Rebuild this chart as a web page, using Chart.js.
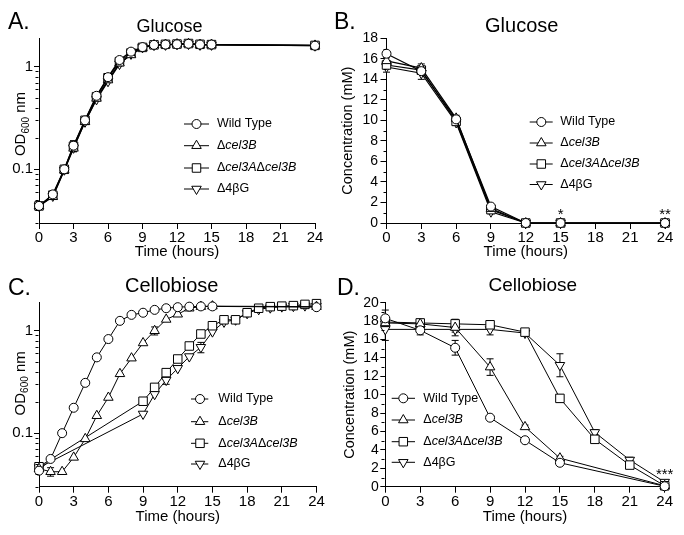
<!DOCTYPE html>
<html lang="en">
<head>
<meta charset="UTF-8" />
<title>Glucose and cellobiose growth</title>
<script src="https://cdn.jsdelivr.net/npm/chart.js"></script>
<style>
  body { margin: 0; background: #fff; }
  .wrap { position: relative; width: 684px; height: 535px; overflow: hidden; }
  canvas { position: absolute; }
</style>
</head>
<body>
<div class="wrap">
  <canvas id="chartA" width="342" height="268" style="left:0;top:0"></canvas>
  <canvas id="chartB" width="354" height="268" style="left:330px;top:0"></canvas>
  <canvas id="chartC" width="342" height="267" style="left:0;top:268px"></canvas>
  <canvas id="chartD" width="354" height="267" style="left:330px;top:268px"></canvas>
</div>

<script>
// ---- data ----
const strainNames = ['Wild Type', 'Δ_cel3B_', 'Δ_cel3A_Δ_cel3B_', 'Δ4βG']; // _..._ = italic

// A. Glucose, OD600
const timeA = [0, 1.2, 2.2, 3, 4, 5, 6, 7, 8, 9, 10, 11, 12, 13, 14, 15, 24];
const wtA = [0.044, 0.057, 0.100, 0.170, 0.30, 0.52, 0.79, 1.16, 1.40, 1.55, 1.63, 1.64, 1.65, 1.67, 1.64, 1.64, 1.60];
const b3A = [0.044, 0.054, 0.098, 0.160, 0.29, 0.49, 0.74, 1.08, 1.30, 1.53, 1.63, 1.64, 1.66, 1.67, 1.64, 1.64, 1.61];
const dkA = [0.044, 0.056, 0.100, 0.168, 0.30, 0.51, 0.78, 1.12, 1.36, 1.54, 1.63, 1.65, 1.66, 1.68, 1.65, 1.64, 1.61];
const g4A = [0.044, 0.055, 0.099, 0.162, 0.29, 0.48, 0.72, 1.06, 1.33, 1.54, 1.62, 1.63, 1.65, 1.66, 1.63, 1.63, 1.60];
const errA = [0, 0.003, 0.005, 0.02, 0.02, 0.04, 0.05, 0.05, 0.04, 0.03, 0, 0, 0, 0, 0, 0, 0];

// B. Glucose, concentration (mM)
const timeB = [0, 3, 6, 9, 12, 15, 24];
const wtB = [16.5, 14.8, 10.1, 1.6, 0, 0, 0];
const b3B = [15.8, 15.1, 10.2, 1.4, 0, 0, 0];
const dkB = [15.4, 14.9, 9.9, 1.3, 0, 0, 0];
const g4B = [15.2, 14.6, 9.8, 1.1, 0, 0, 0];
const wtBErr = [0.2, 0.3, 0.2, 0.2, 0, 0, 0];
const b3BErr = [0.3, 0.4, 0.3, 0.2, 0, 0, 0];
const dkBErr = [0.3, 0.4, 0.3, 0.2, 0, 0, 0];
const g4BErr = [0.5, 0.6, 0.3, 0.2, 0, 0, 0];
const starsB = ['*', '**'];
const starTimesB = [15, 24];

// C. Cellobiose, OD600
const timeC1 = [0, 1, 2, 3, 4, 5, 6, 7, 8, 9, 10, 11, 12, 13, 14, 15, 24];
const timeC2 = [0, 9, 10, 11, 12, 13, 14, 15, 16, 17, 18, 19, 20, 21, 22, 23, 24];
const wtC = [0.043, 0.056, 0.100, 0.177, 0.31, 0.55, 0.83, 1.25, 1.43, 1.50, 1.60, 1.66, 1.70, 1.72, 1.73, 1.73, 1.70];
const b3C = [0.045, 0.042, 0.042, 0.058, 0.088, 0.148, 0.223, 0.38, 0.54, 0.76, 1.00, 1.29, 1.45, 1.66, 1.72, 1.74, 1.72];
const dkC = [0.047, 0.205, 0.28, 0.39, 0.53, 0.71, 0.93, 1.12, 1.28, 1.28, 1.50, 1.66, 1.72, 1.74, 1.76, 1.81, 1.84];
const g4C = [0.046, 0.154, 0.24, 0.33, 0.43, 0.56, 0.69, 0.98, 1.22, 1.28, 1.48, 1.62, 1.68, 1.72, 1.74, 1.76, 1.74];
const b3CErr = [0, 0.004, 0, 0, 0, 0, 0, 0, 0, 0, 0.09, 0, 0, 0, 0, 0, 0];
const g4CErr = [0, 0, 0, 0.03, 0, 0, 0.08, 0, 0, 0.07, 0.06, 0, 0, 0, 0, 0, 0];

// D. Cellobiose, concentration (mM)
const timeD1 = [0, 3, 6, 9, 12, 15, 24];
const timeD2 = [0, 3, 6, 9, 12, 15, 18, 21, 24];
const wtD = [18.3, 17.0, 15.1, 7.5, 5.05, 2.6, 0.05];
const b3D = [17.8, 17.7, 17.3, 13.0, 6.5, 3.1, 0.1];
const dkD = [17.9, 17.8, 17.7, 17.6, 16.8, 9.6, 5.15, 2.35, 0.1];
const g4D = [17.1, 17.1, 17.1, 17.1, 16.7, 13.2, 5.9, 2.9, 0.5];
const wtDErr = [0.9, 0.5, 0.8, 0.2, 0.1, 0.2, 0];
const b3DErr = [0.3, 0.5, 0.9, 0.9, 0.2, 0.2, 0];
const dkDErr = [0.4, 0.2, 0.2, 0.2, 0.2, 0.4, 0.2, 0.2, 0];
const g4DErr = [1.2, 0.3, 0.3, 0.6, 0.2, 1.25, 0.3, 0.3, 0.1];
const starsD = ['***'];
const starTimesD = [24];

// ---- styling ----
const FAMILY = "'Liberation Sans', Arial, Helvetica, sans-serif";
Chart.defaults.font.family = FAMILY;
Chart.defaults.color = '#000';

const markers = [
  { pointStyle: 'circle', rotation: 0, radius: 4.5 },
  { pointStyle: 'triangle', rotation: 0, radius: 5.5 },
  { pointStyle: 'rect', rotation: 0, radius: 6 },
  { pointStyle: 'triangle', rotation: 180, radius: 5.5 }
];

function series(i, xs, ys, errs, lw) {
  const m = markers[i];
  return {
    label: strainNames[i].replace(/_/g, ''),
    data: xs.map((x, j) => ({ x: x, y: ys[j] })),
    errors: errs || null,
    borderColor: '#000',
    borderWidth: lw,
    backgroundColor: '#fff',
    pointStyle: m.pointStyle,
    pointRotation: m.rotation,
    pointRadius: m.radius,
    pointBorderWidth: 1,
    pointBackgroundColor: '#fff',
    pointBorderColor: '#000',
    tension: 0,
    clip: false
  };
}

// per-panel decorations (letters, titles, legend, stars), canvas-local coordinates
const logMinor = [];
for (let v = 3; v <= 9; v++) logMinor.push(v / 100);
for (let v = 2; v <= 9; v++) logMinor.push(v / 10);
const oddB = [], oddD = [];
for (let v = 1; v < 18; v += 2) oddB.push(v);
for (let v = 1; v < 20; v += 2) oddD.push(v);

const decor = {
  chartA: { letter: 'A.', lx: 8, ly: 28.5, title: 'Glucose', tSize: 18, tx: 169.5, ty: 26,
            od: { x: 19.7, y: 124 },
            leg: { x1: 184, xm: 196.5, x2: 209, tx: 217, rows: [124, 145.7, 168, 189] },
            minor: logMinor },
  chartB: { letter: 'B.', lx: 4, ly: 28.5, title: 'Glucose', tSize: 20, tx: 191.7, ty: 25,
            leg: { x1: 199.7, xm: 211.3, x2: 222.7, tx: 230.3, rows: [122, 143, 164, 184.5] },
            minor: oddB, stars: starsB, starTimes: starTimesB, starLift: 4 },
  chartC: { letter: 'C.', lx: 8, ly: 27, title: 'Cellobiose', tSize: 20, tx: 171.7, ty: 17,
            od: { x: 19.5, y: 115.3 },
            leg: { x1: 191, xm: 200, x2: 208.3, tx: 218.3, rows: [131, 153.7, 175.3, 196] },
            minor: logMinor },
  chartD: { letter: 'D.', lx: 7, ly: 27, title: 'Cellobiose', tSize: 19, tx: 202.8, ty: 16.5,
            leg: { x1: 61.7, xm: 73.3, x2: 85, tx: 93.3, rows: [130.3, 152, 173.7, 194.3] },
            minor: oddD, stars: starsD, starTimes: starTimesD, starLift: 7.7 }
};

function drawRich(ctx, text, x, y, size) {
  const parts = text.split('_');
  parts.forEach((p, k) => {
    if (!p) return;
    ctx.font = (k % 2 ? 'italic ' : '') + size + 'px ' + FAMILY;
    ctx.fillText(p, x, y);
    x += ctx.measureText(p).width;
  });
}

function drawOd(ctx, cx, cy) {
  ctx.save();
  ctx.translate(cx, cy);
  ctx.rotate(-Math.PI / 2);
  const big = '15px ' + FAMILY, small = '10px ' + FAMILY;
  ctx.font = big;
  const w1 = ctx.measureText('OD').width, w3 = ctx.measureText(' nm').width;
  ctx.font = small;
  const w2 = ctx.measureText('600').width;
  let x = -(w1 + w2 + w3) / 2;
  const base = 5.4;
  ctx.textBaseline = 'alphabetic';
  ctx.textAlign = 'left';
  ctx.font = big; ctx.fillText('OD', x, base); x += w1;
  ctx.font = small; ctx.fillText('600', x, base + 3.5); x += w2;
  ctx.font = big; ctx.fillText(' nm', x, base);
  ctx.restore();
}

const panelDeco = {
  id: 'panelDeco',
  beforeDatasetsDraw(chart) {
    // error bars, under the markers
    const ctx = chart.ctx, ys = chart.scales.y;
    ctx.save();
    ctx.strokeStyle = '#000';
    ctx.lineWidth = 1;
    chart.data.datasets.forEach((ds, i) => {
      if (!ds.errors) return;
      const meta = chart.getDatasetMeta(i);
      ds.errors.forEach((e, j) => {
        if (!e) return;
        const v = ds.data[j].y, x = meta.data[j].x;
        const lo = Math.max(v - e, ys.min);
        const y1 = ys.getPixelForValue(v + e), y2 = ys.getPixelForValue(lo);
        ctx.beginPath();
        ctx.moveTo(x, y1); ctx.lineTo(x, y2);
        ctx.moveTo(x - 3.5, y1); ctx.lineTo(x + 3.5, y1);
        ctx.moveTo(x - 3.5, y2); ctx.lineTo(x + 3.5, y2);
        ctx.stroke();
      });
    });
    ctx.restore();
  },
  afterDraw(chart) {
    const d = decor[chart.canvas.id];
    const ctx = chart.ctx, ys = chart.scales.y, xs = chart.scales.x;
    ctx.save();
    ctx.fillStyle = '#000';
    ctx.strokeStyle = '#000';
    ctx.textAlign = 'left';
    ctx.textBaseline = 'alphabetic';

    ctx.font = '23px ' + FAMILY;
    ctx.fillText(d.letter, d.lx, d.ly);

    ctx.font = d.tSize + 'px ' + FAMILY;
    ctx.textAlign = 'center';
    ctx.fillText(d.title, d.tx, d.ty + 0.36 * d.tSize);
    ctx.textAlign = 'left';

    if (d.od) drawOd(ctx, d.od.x, d.od.y);

    // minor ticks on y axis
    ctx.lineWidth = 1;
    const ax = Math.round(chart.chartArea.left) - 0.5;
    ctx.beginPath();
    d.minor.forEach(v => {
      const y = Math.round(ys.getPixelForValue(v)) + 0.5;
      ctx.moveTo(ax, y); ctx.lineTo(ax - 3, y);
    });
    ctx.stroke();

    // legend
    const L = d.leg;
    d.leg.rows.forEach((y, i) => {
      const m = markers[i];
      ctx.beginPath();
      ctx.moveTo(L.x1, y); ctx.lineTo(L.x2, y);
      ctx.stroke();
      ctx.fillStyle = '#fff';
      Chart.helpers.drawPoint(ctx, { pointStyle: m.pointStyle, rotation: m.rotation, radius: m.radius, borderWidth: 1 }, L.xm, y);
      ctx.fillStyle = '#000';
      ctx.textBaseline = 'middle';
      drawRich(ctx, strainNames[i], L.tx, y, 12.5);
    });

    // significance stars
    if (d.stars) {
      ctx.font = '15px ' + FAMILY;
      ctx.textAlign = 'center';
      ctx.textBaseline = 'alphabetic';
      d.stars.forEach((s, k) => {
        ctx.fillText(s, xs.getPixelForValue(d.starTimes[k]), ys.getPixelForValue(0) - d.starLift);
      });
    }
    ctx.restore();
  }
};

function xAxis(h, titlePad) {
  return {
    type: 'linear', min: 0, max: 24,
    afterFit: s => { s.height = h; },
    ticks: { stepSize: 3, font: { size: 15 }, padding: 0, maxRotation: 0, autoSkip: false, color: '#000' },
    grid: { drawOnChartArea: false, color: '#000', tickLength: 6, tickWidth: 1 },
    border: { color: '#000', width: 1 },
    title: { display: true, text: 'Time (hours)', font: { size: 15 }, padding: { top: 0, bottom: titlePad } }
  };
}

function logAxis(w) {
  return {
    type: 'logarithmic', min: 0.03, max: 1.88,
    afterFit: s => { s.width = w; },
    afterBuildTicks: s => { s.ticks = [{ value: 0.1 }, { value: 1 }]; },
    ticks: { font: { size: 15 }, padding: 1, color: '#000', callback: v => String(v) },
    grid: { drawOnChartArea: false, color: '#000', tickLength: 5 },
    border: { color: '#000', width: 1 }
  };
}

function concAxis(w, max, tickLen, pad, titlePad) {
  return {
    type: 'linear', min: 0, max: max,
    afterFit: s => { s.width = w; },
    ticks: { stepSize: 2, font: { size: 14 }, padding: pad, autoSkip: false, color: '#000' },
    grid: { drawOnChartArea: false, color: '#000', tickLength: tickLen },
    border: { color: '#000', width: 1 },
    title: { display: true, text: 'Concentration (mM)', font: { size: 14.5 }, padding: { top: titlePad, bottom: 0 } }
  };
}

function makeChart(id, datasets, xs, ys, pad) {
  return new Chart(document.getElementById(id), {
    type: 'line',
    data: { datasets: datasets },
    options: {
      responsive: false,
      animation: false,
      layout: { padding: pad },
      plugins: { legend: { display: false }, tooltip: { enabled: false }, title: { display: false } },
      scales: { x: xs, y: ys }
    },
    plugins: [panelDeco]
  });
}

makeChart('chartA', [
  series(0, timeA, wtA, errA, 1.3),
  series(1, timeA, b3A, null, 1.3),
  series(2, timeA, dkA, errA, 1.3),
  series(3, timeA, g4A, null, 1.3)
], xAxis(45, 7), logAxis(39), { left: 0, top: 38.5, right: 27, bottom: 0 });

makeChart('chartB', [
  series(0, timeB, wtB, wtBErr, 1.2),
  series(1, timeB, b3B, b3BErr, 1.2),
  series(2, timeB, dkB, dkBErr, 1.2),
  series(3, timeB, g4B, g4BErr, 1.2)
], xAxis(45, 7), concAxis(56.5, 18, 6, 2.5, 9), { left: 0, top: 38.3, right: 19, bottom: 0 });

makeChart('chartC', [
  series(0, timeC1, wtC, null, 1),
  series(1, timeC1, b3C, b3CErr, 1),
  series(2, timeC2, dkC, null, 1),
  series(3, timeC2, g4C, g4CErr, 1)
], xAxis(48.3, 8.7), logAxis(39), { left: 0, top: 34.7, right: 25.5, bottom: 0 });

makeChart('chartD', [
  series(0, timeD1, wtD, wtDErr, 1),
  series(1, timeD1, b3D, b3DErr, 1),
  series(2, timeD2, dkD, dkDErr, 1),
  series(3, timeD2, g4D, g4DErr, 1)
], xAxis(48.3, 8.7), concAxis(55.3, 20, 5, 1.5, 11.3), { left: 0, top: 34.7, right: 19.3, bottom: 0 });
</script>
</body>
</html>
